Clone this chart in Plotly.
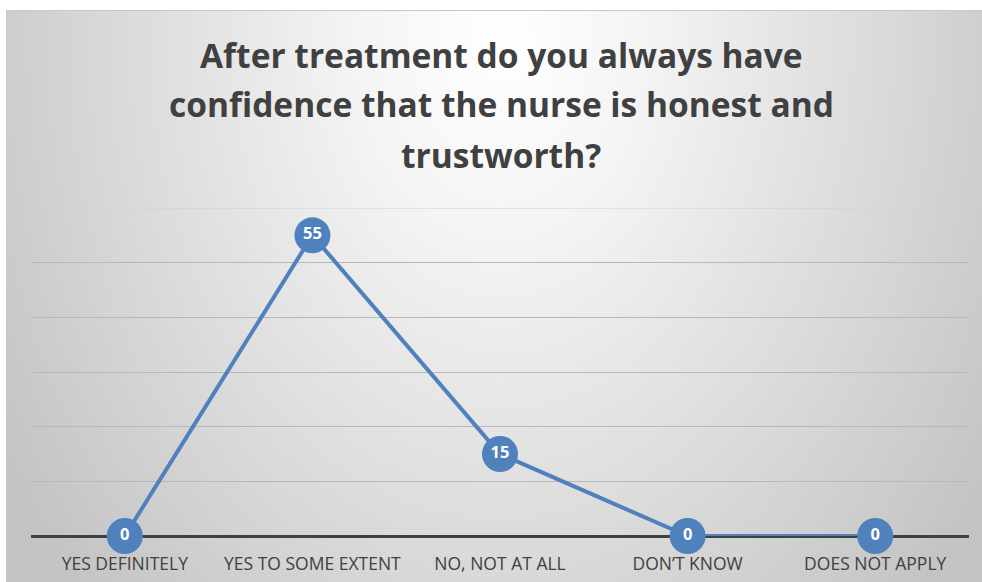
import base64
import plotly.graph_objects as go

categories = ["YES DEFINITELY", "YES TO SOME EXTENT", "NO, NOT AT ALL", "DON’T KNOW", "DOES NOT APPLY"]
values = [0, 55, 15, 0, 0]
title_lines = ["After treatment do you always have",
               "confidence that the nurse is honest and",
               "trustworth?"]

W, H = 982, 582
L, R, T, B = 31, 13, 208, 46
pw, ph = W - L - R, H - T - B

def px_x(x):
    return (x - L) / pw

def px_y(y):
    return (H - B - y) / ph

# radial gradient background as inline svg
svg = (
    '<svg xmlns="http://www.w3.org/2000/svg" width="976" height="572" viewBox="0 0 976 572">'
    '<defs><radialGradient id="g" gradientUnits="userSpaceOnUse" cx="0" cy="0" r="1" '
    'gradientTransform="translate(495,30) scale(580,790)">'
    '<stop offset="0" stop-color="#ffffff"/><stop offset="0.25" stop-color="#f4f4f4"/>'
    '<stop offset="1" stop-color="#c4c4c4"/></radialGradient></defs>'
    '<rect x="0" y="0" width="976" height="572" fill="url(#g)"/></svg>'
)
src = "data:image/svg+xml;base64," + base64.b64encode(svg.encode()).decode()

FONT = "'Open Sans', Lato, sans-serif"

fig = go.Figure()
fig.add_trace(go.Scatter(
    x=categories, y=values, mode="lines+markers+text",
    line=dict(color="#4f81bd", width=4),
    marker=dict(size=36, color="#4f81bd"),
    text=[str(v) for v in values], textposition="middle center",
    textfont=dict(family=FONT, size=16.5, color="white", weight="bold"),
    cliponaxis=False, hoverinfo="skip", showlegend=False,
))

annotations = []
baselines = [67, 116, 167]
for line, yb in zip(title_lines, baselines):
    annotations.append(dict(
        text="<b>" + line + "</b>", x=px_x(501), y=px_y(yb - 12),
        xref="paper", yref="paper", xanchor="center", yanchor="middle",
        showarrow=False,
        font=dict(family=FONT, size=33.5, color="#404040"),
    ))

fig.update_layout(
    width=W, height=H,
    margin=dict(l=L, r=R, t=T, b=B, pad=0, autoexpand=False),
    paper_bgcolor="white", plot_bgcolor="rgba(0,0,0,0)",
    images=[dict(source=src, xref="paper", yref="paper",
                 x=px_x(6), y=px_y(10), sizex=px_x(W) - px_x(6), sizey=px_y(10) - px_y(H),
                 xanchor="left", yanchor="top", sizing="stretch", layer="below")],
    shapes=[
        dict(type="rect", xref="paper", yref="paper",
             x0=px_x(6.5), x1=px_x(W + 2), y0=px_y(H + 2), y1=px_y(10.5),
             line=dict(color="#c8c8c8", width=1), fillcolor="rgba(0,0,0,0)", layer="below"),
        dict(type="line", xref="paper", yref="y", x0=0, x1=1, y0=60, y1=60,
             line=dict(color="#cfcfcf", width=1), layer="below"),
    ],
    annotations=annotations,
    xaxis=dict(type="category", range=[-0.5, 4.5], showgrid=False, showline=False,
               ticks="", zeroline=False, ticklabelstandoff=15, automargin=False,
               tickfont=dict(family=FONT, size=17.5, color="#404040")),
    yaxis=dict(range=[0, 60], tickvals=[10, 20, 30, 40, 50], showgrid=True,
               gridcolor="#b8b8b8", gridwidth=1, automargin=False,
               zeroline=True, zerolinecolor="#404040", zerolinewidth=2.5,
               showticklabels=False, ticks="", showline=False),
)

fig.write_html("out.html", config={"displayModeBar": False},
               post_script="document.body.style.margin='0';document.body.style.overflow='hidden';")
